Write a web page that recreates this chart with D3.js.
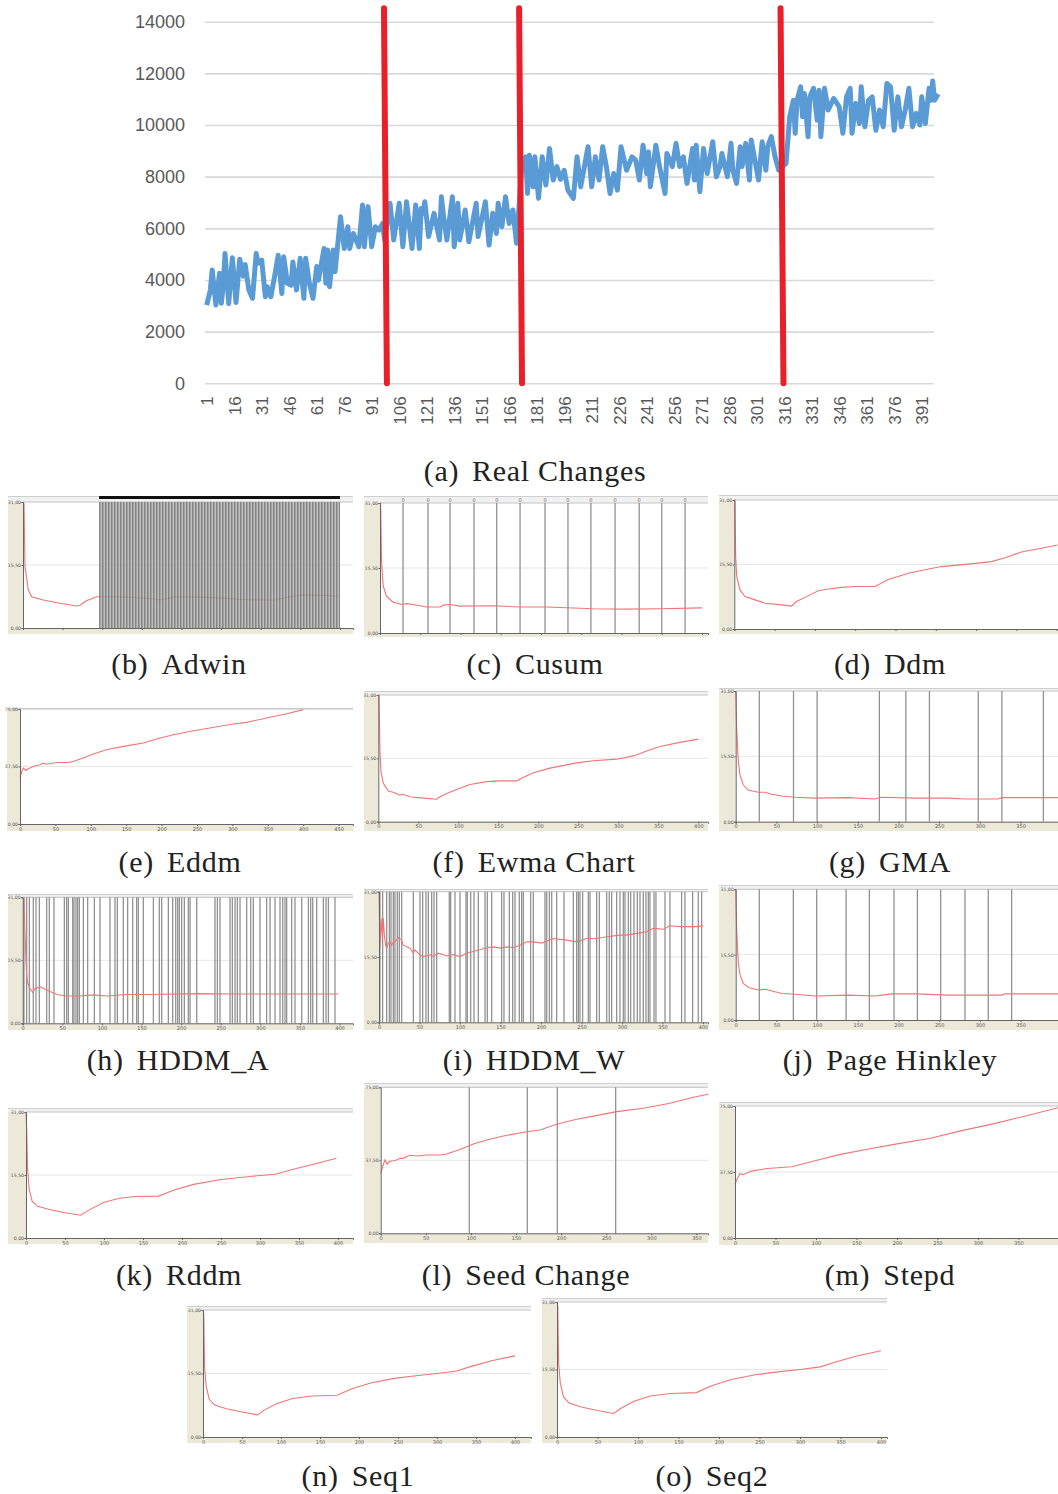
<!DOCTYPE html>
<html><head><meta charset="utf-8">
<script src="https://cdn.jsdelivr.net/npm/d3@7"></script>
<style>body{margin:0;background:#fff}svg{display:block}</style>
</head><body>
<svg id="c" width="1058" height="1494"></svg>
<script>
// ================= DATA =================
// (a) Real Changes : blue series (index, value)
const topIdx = [1,3,4,6,8,9,10,11,13,15,17,19,21,22,24,26,28,29,31,33,34,36,38,40,42,43,45,47,48,50,52,54,55,57,59,61,62,65,66,67,68,70,71,74,76,78,79,81,84,86,87,89,91,93,95,97,98,101,103,106,108,110,113,115,117,118,119,120,122,125,128,129,130,132,135,136,138,139,142,144,148,149,153,155,157,159,160,162,164,166,168,170,173,175,176,177,179,180,182,184,186,188,190,192,194,196,198,201,203,205,209,211,213,215,217,219,221,223,225,227,230,233,235,237,239,241,242,243,246,248,251,252,255,257,259,261,263,266,267,268,270,272,274,277,279,281,282,285,287,288,290,292,293,295,297,298,300,302,304,306,307,309,311,313,315,317,319,321,322,323,325,326,327,329,330,332,334,335,336,338,340,343,346,348,350,352,353,355,357,358,360,362,364,366,368,370,372,374,376,378,380,382,384,386,388,390,391,393,395,396,397,398,400];
const topVal = [3030,3610,4385,3030,4257,3100,3800,5030,3090,4860,3130,4800,4150,4600,3610,3290,5030,4645,4770,3350,3740,3350,4130,4960,3480,4900,3870,3800,4700,3610,4840,3290,4840,3870,3290,4520,4000,5220,3870,5160,3740,5160,4320,6450,5220,6060,5220,5800,5290,6900,5290,6840,5290,6060,5930,6190,5550,6970,5550,6970,5290,7030,5220,6900,5220,6770,6580,7030,5680,6580,5550,7220,6580,5550,7220,5290,6970,5550,6710,5480,6970,5680,7030,5350,6580,5800,6970,6060,7220,6190,6710,5420,8600,8770,7350,8830,7610,8770,7160,8770,7680,9090,7870,8390,7900,8250,7480,7160,8770,7610,9160,7610,8770,7870,9160,8390,7350,8120,7480,9160,8250,8770,8640,7870,9220,8120,8960,7610,9220,8390,7350,8900,8390,9290,8390,8770,7740,9090,7870,9220,7420,9090,8120,9350,8000,8390,8900,8000,9290,8250,7740,9160,8390,9290,7870,9420,8640,7870,9350,8250,9160,9550,8770,8250,8390,8510,10320,10960,9680,10960,11480,10320,11220,9550,11090,11420,10190,11350,9550,11420,10580,11030,10700,9680,11090,11420,9680,10830,10060,11480,9930,10960,11090,9800,10580,9930,11610,11480,9800,11090,9930,10580,11420,9930,10450,10000,11090,10060,11420,10960,11700,10960,11200];
const yTicksTop = [0,2000,4000,6000,8000,10000,12000,14000];
const xTicksTop = [1,16,31,46,61,76,91,106,121,136,151,166,181,196,211,226,241,256,271,286,301,316,331,346,361,376,391];
const changeTop = [97.7,171.4,314.0];
const changeBottom = [99.3,173.0,315.6];
const changeLineMax = 14520;

// small panels : accuracy curves [instance, value]
const adwinPts = [[0,31],[1.3,30.6],[2.5,15.1],[6.7,9.35],[11,7.7],[25.6,6.9],[46.7,6.1],[67.7,5.4],[72,5.6],[80,6.7],[93,7.7],[118,7.7],[139,7.5],[160,7.3],[173,6.9],[192,7.7],[223,7.6],[257,7.3],[274,7.0],[316,6.9],[333,7.5],[350,8.1],[375,8.1],[399,7.8]];
const adwinBand = [96,400];
const cusumPts = [[0,31],[0.8,31],[2,16.9],[4,11.2],[8,8.8],[16.6,7.3],[22,7.1],[27,6.8],[33,7.0],[41,6.8],[58,6.2],[74.5,6.2],[80,6.7],[87,6.8],[99,6.4],[141,6.5],[174,6.2],[207,6.2],[265,5.8],[306,5.7],[348,5.8],[400,6.0]];
const cusumDrifts = [28.6,59.6,87,116.8,145,174,205,233.5,262,292,322,350,379];
const ddmPts = [[0,31],[0.9,31],[1.7,17.4],[3,12.6],[7,9.4],[13.3,7.8],[25.7,7],[38,6.2],[58.8,5.8],[71,5.5],[77,6.6],[87.7,7.6],[104,9.2],[116.6,9.6],[133,10],[150,10.2],[174.6,10.2],[191,11.9],[216,13.4],[241,14.4],[257,15],[290,15.6],[319,16.2],[336,17.1],[356,18.5],[381,19.4],[401,20.2]];
const eddmPts = [[0,30.5],[2.4,34.2],[4.7,36.4],[8.5,34.9],[11.8,36],[18.8,37.5],[28,38.6],[33,39.7],[37.7,39],[52,40.1],[66,40.1],[73,40.5],[89.5,43],[103.5,45.6],[122,48.4],[146,50.6],[174,52.8],[193,55.4],[216.5,58.2],[245,60.8],[268,62.6],[301,65.2],[320,66.3],[348,69.1],[377,71.9],[400,74.6]];
const ewmaPts = [[0,31],[0.9,31],[2.1,17.1],[3.4,12.2],[6.3,9.4],[12.5,7.5],[18.8,7.2],[27,6.5],[31,6.7],[39.6,6.1],[50,5.9],[60.5,5.7],[73,5.5],[77,6.1],[85.5,6.9],[102,8.2],[114.6,9.1],[135.5,9.8],[152,10],[173,10],[181,10.8],[194,12],[214.6,13.1],[227,13.6],[248,14.4],[269,14.9],[298,15.3],[319,16.1],[335.5,17.3],[352,18.4],[377,19.4],[400,20.2]];
const gmaPts = [[0,30.8],[1.2,22.2],[3.3,14.2],[5.3,11.1],[9.3,8.7],[15.5,7.5],[27.8,7],[36,7],[44,6.5],[56.5,6.1],[73,5.8],[97,5.6],[138,5.7],[171,5.4],[179,5.8],[220,5.6],[261,5.6],[282,5.4],[322.6,5.4],[326.8,5.7],[363.6,5.7],[396,5.7]];
const gmaDrifts = [29,71,100,176.5,209,238,298,327,378];
const hddmAPts = [[0,31],[1.6,30.7],[2.9,21.7],[4.2,15.2],[5,11.9],[6.3,9.8],[9.2,8.6],[12.6,7.6],[15.5,8.6],[19.7,8.8],[24,8.9],[28.2,8.4],[34.5,7.8],[43,7.1],[55.5,6.7],[72.4,6.7],[89.2,7],[106,6.7],[131.3,7.1],[160.7,7.1],[223.9,7.3],[266,7.2],[308,7.2],[398.5,7.2]];
const hddmADrifts = [1.6,5,8.4,13.4,16.8,21,30.3,33.6,39.5,52.6,55.5,57.6,63.1,64.8,67.3,69.4,71.5,76.6,82,90.5,97.6,110.2,116.5,119.5,127,132.5,138.9,143.9,146,152.3,165,172.5,175.5,183.9,189.4,193.2,195.7,197.8,200.7,204.1,209.1,211.3,219.7,242.8,245.8,249.1,261.8,264.7,268.1,271,274.4,282.8,287.9,291.2,299.6,308,312.3,318.6,324.9,328.3,331.2,333.3,339.6,343.8,352.3,360.7,363.6,366.2,371.2,379.6,383,386,394.3];
const hddmWPts = [[0,31],[1.2,17.6],[2.5,24.7],[4.1,19.9],[5.3,24.7],[6.6,20.7],[8.2,18.3],[9.5,17.6],[11.5,18.8],[13.6,19.1],[15.6,18.3],[17.7,19],[21.8,19.5],[23.9,20.1],[25.9,19.8],[28,19.5],[30,18.3],[38.3,17.6],[42.4,16.4],[44.4,17.2],[50.6,16],[54.7,15.6],[58.8,15.8],[63,16],[67,15.7],[73.2,16.4],[83.5,15.8],[91.8,16.1],[100,15.6],[108.2,16.4],[116.4,16.8],[124.7,17.2],[132.9,17.7],[141.1,17.9],[149.4,17.6],[157.6,17.9],[165.8,17.7],[174,18.3],[182.3,19.1],[190.5,19.1],[200.8,18.8],[215.2,19.9],[231.7,19.5],[244,19.1],[256.4,19.9],[268.7,19.9],[281,20.3],[297.5,20.7],[305.7,20.7],[318,21.1],[330.4,21.5],[338.7,22.3],[351,22.1],[359.2,22.9],[371.6,22.7],[383.9,22.7],[392.1,22.7],[400.4,22.9]];
const hddmWDrifts = [1.2,4.5,9.5,12.8,14.8,17.7,19.7,22.6,25.1,28,42.4,50.6,53.9,58,60.9,65,67.9,71.2,86.8,88.5,93.8,100,107.4,109,113.2,117.3,122.6,130.9,133.7,139.1,151.4,154.3,160.9,165,167.9,173.2,176.1,178.2,187.2,190.5,204.9,207,210.3,213.2,219.3,228.4,239.9,244,246.1,248.1,251.4,258.4,260.5,268.7,272,281.1,284.3,287.2,293.4,297.5,301.6,303.7,307.8,310.7,314.8,318.9,322.2,326.3,329.6,332.5,334.5,339.5,341.9,353.1,359.2,373.6,377.7,387.2,394.2,398.3];
const phPts = [[0,31],[1.2,21.3],[3.3,13.4],[5.3,10.7],[9.4,8.7],[15.6,7.7],[27.8,7.1],[36,7.3],[48.3,6.7],[56.5,6.3],[72.9,6.1],[97.5,5.7],[138.4,5.9],[171.2,5.7],[179.4,5.9],[191.6,6.2],[220.3,6.2],[261.3,5.9],[302.2,5.9],[326.8,5.9],[330.9,6.2],[396.4,6.2]];
const phDrifts = [29,70.8,99.5,135.6,164.2,194.5,223.2,251.8,281.7,310.3,339];
const rddmPts = [[0,31],[1,26],[2,17],[4,12],[8,9],[15,7.8],[30,7],[50,6.2],[70,5.6],[80,6.8],[100,8.8],[120,9.8],[140,10.2],[170,10.3],[190,11.8],[215,13.2],[250,14.4],[290,15.2],[320,15.7],[340,16.8],[370,18.2],[398,19.6]];
const seedPts = [[0,30.8],[2.2,34.2],[4.7,37.7],[7.3,35.6],[10.3,37.1],[14,37.3],[17.7,37.7],[21.4,38.5],[25,38.5],[28.8,39.4],[32.5,40.1],[39.9,39.7],[50.9,40.2],[65.7,40.2],[73.1,40.7],[87.9,43.1],[102.7,45.9],[117.5,47.9],[135.9,50],[161.8,52.2],[176.6,53.1],[195,56],[217.2,58.6],[235.7,60.2],[261.6,62.5],[291.1,64.2],[320.7,66.8],[346.5,69.9],[363.2,71.4]];
const seedDrifts = [98.2,162.5,195.8,260.5];
const stepdPts = [[0,30.5],[3,34],[6,36.5],[10,36],[20,38],[40,39.5],[70,40.5],[100,44],[130,47.5],[170,51],[200,53.5],[240,56.5],[280,61],[320,65],[360,69.5],[399,74]];
const seq1Pts = [[0,31],[1,30],[2,17],[4,12.5],[8,9.2],[15,7.8],[30,6.9],[50,6.1],[70,5.4],[78,6.5],[95,8.2],[115,9.4],[140,10],[172,10.2],[190,11.7],[215,13.2],[245,14.3],[270,14.9],[300,15.5],[325,16.1],[345,17.3],[370,18.6],[400,19.8]];
const seq2Pts = [[0,31],[1,30],[2,17],[4,12.5],[8,9.2],[15,7.8],[30,6.9],[50,6.1],[70,5.4],[78,6.5],[95,8.2],[115,9.4],[140,10],[172,10.2],[190,11.7],[215,13.2],[245,14.3],[270,14.9],[300,15.5],[325,16.1],[345,17.3],[370,18.6],[400,19.8]];
const yLabels31 = [0,15.5,31];
const yLabels75 = [0,37.5,75];

// ================= LAYOUT =================
const svg = d3.select("#c");
const serif = "Liberation Serif, Times New Roman, serif";

// ---- (a)
const xA = d3.scaleLinear().domain([1,391]).range([206.7,921.7]);
const yA = d3.scaleLinear().domain([0,14000]).range([383.3,21.7]);
const gA = svg.append("g");
gA.append("g").attr("transform","translate(205,0)")
  .call(d3.axisLeft(yA).tickValues(yTicksTop).tickSize(-729).tickPadding(20).tickFormat(d=>String(d)))
  .call(g=>g.select(".domain").remove())
  .call(g=>g.selectAll(".tick line").attr("stroke","#d9d9d9").attr("stroke-width",1.6))
  .call(g=>g.selectAll(".tick text").attr("fill","#595959").attr("font-size",18)
     .attr("font-family","Liberation Sans, Arial, sans-serif"));
gA.append("g").attr("transform","translate(0,383.3)")
  .call(d3.axisBottom(xA).tickValues(xTicksTop).tickSize(0).tickPadding(0))
  .call(g=>g.select(".domain").remove())
  .call(g=>g.selectAll(".tick text").attr("transform","rotate(-90)").attr("x",-13).attr("y",0)
     .attr("dy","0.36em").attr("text-anchor","end").attr("fill","#595959").attr("font-size",17)
     .attr("font-family","Liberation Sans, Arial, sans-serif"));
const topData = topIdx.map((d,i)=>[d,topVal[i]]);
gA.append("path").datum(topData)
  .attr("d", d3.line().x(d=>xA(d[0])).y(d=>yA(d[1])))
  .attr("fill","none").attr("stroke","#5b9bd5").attr("stroke-width",5).attr("stroke-linejoin","round");
gA.selectAll("line.chg").data(changeTop).join("line").attr("class","chg")
  .attr("x1",(d,i)=>xA(changeBottom[i])).attr("y1",yA(0))
  .attr("x2",d=>xA(d)).attr("y2",yA(changeLineMax))
  .attr("stroke","#e8202a").attr("stroke-width",6).attr("stroke-linecap","round");

// ---- captions
function caption(letter, name, cx, by){
  const t = svg.append("text").attr("y",by).attr("font-family",serif).attr("font-size",30)
    .attr("fill","#222").attr("letter-spacing","0.7px");
  t.append("tspan").text("("+letter+")");
  t.append("tspan").attr("dx",13).text(name);
  const w = t.node().getComputedTextLength() + 13;
  t.attr("x", cx - w/2);
}
caption("a","Real Changes",535,481);

// ---- small panels
const L = {
 b:{left:8,right:353,top:496,plotTop:502,plotBottom:628,bottom:634,axisX:23,ppu:0.7925,yMax:31,labels:false},
 c:{left:364,right:708,top:496,plotTop:503,plotBottom:633,bottom:637,axisX:380,ppu:0.805,yMax:31,labels:false,zero:true},
 d:{left:719,right:1058,top:495,plotTop:500,plotBottom:629,bottom:634,axisX:734.3,ppu:0.806,yMax:31,labels:false},
 e:{left:7,right:353,top:708,plotTop:709,plotBottom:824,bottom:831,axisX:20,ppu:0.708,yMax:75,labels:true},
 f:{left:364,right:708,top:691,plotTop:695,plotBottom:821.7,bottom:831,axisX:378.3,ppu:0.8,yMax:31,labels:true},
 g:{left:719,right:1058,top:688,plotTop:691,plotBottom:821.7,bottom:831,axisX:735.7,ppu:0.814,yMax:31,labels:true},
 h:{left:8,right:353,top:894,plotTop:897.3,plotBottom:1023.3,bottom:1030,axisX:22.7,ppu:0.792,yMax:31,labels:true},
 i:{left:364,right:708,top:889,plotTop:891.7,plotBottom:1022.3,bottom:1030,axisX:379,ppu:0.81,yMax:31,labels:true},
 j:{left:719,right:1058,top:885,plotTop:889.3,plotBottom:1020,bottom:1030,axisX:735.7,ppu:0.814,yMax:31,labels:true},
 k:{left:8,right:353,top:1108,plotTop:1112,plotBottom:1238,bottom:1244,axisX:26,ppu:0.78,yMax:31,labels:true},
 l:{left:364,right:708,top:1083,plotTop:1087.3,plotBottom:1233.3,bottom:1243,axisX:380.7,ppu:0.902,yMax:75,labels:true},
 m:{left:719,right:1058,top:1102,plotTop:1106,plotBottom:1238,bottom:1245,axisX:735,ppu:0.81,yMax:75,labels:true},
 n:{left:187,right:531,top:1306,plotTop:1310,plotBottom:1437,bottom:1443,axisX:203,ppu:0.78,yMax:31,labels:true},
 o:{left:542,right:887,top:1298,plotTop:1302,plotBottom:1437,bottom:1443,axisX:557,ppu:0.81,yMax:31,labels:true}
};
const fmt = d => d3.format(".2f")(d).replace(".",",");

function drawPanel(P, pts, drifts, yLabs, opts={}){
  const g = svg.append("g");
  const xEnd = (P.right-P.axisX)/P.ppu;
  const x = d3.scaleLinear().domain([0,xEnd]).range([P.axisX,P.right]);
  const y = d3.scaleLinear().domain([0,P.yMax]).range([P.plotBottom,P.plotTop]);
  g.append("rect").attr("x",P.left).attr("y",P.top).attr("width",P.right-P.left).attr("height",P.bottom-P.top).attr("fill","#fff");
  g.append("rect").attr("x",P.left).attr("y",P.top).attr("width",P.right-P.left).attr("height",Math.max(0,P.plotTop-P.top)).attr("fill","#f1f1f1");
  g.append("line").attr("x1",P.left).attr("x2",P.right).attr("y1",P.top+0.5).attr("y2",P.top+0.5).attr("stroke","#cfcfcf");
  g.append("line").attr("x1",P.axisX).attr("x2",P.right).attr("y1",P.plotTop).attr("y2",P.plotTop).attr("stroke","#c4c4c4");
  g.append("rect").attr("x",P.left).attr("y",P.plotTop).attr("width",P.axisX-P.left).attr("height",P.bottom-P.plotTop).attr("fill","#ece9d8");
  g.append("rect").attr("x",P.axisX).attr("y",P.plotBottom).attr("width",P.right-P.axisX).attr("height",P.bottom-P.plotBottom).attr("fill","#ece9d8");
  g.append("line").attr("x1",P.axisX).attr("x2",P.right).attr("y1",y(P.yMax/2)).attr("y2",y(P.yMax/2)).attr("stroke","#e6e6e6");
  // drift lines
  g.selectAll("line.dr").data(drifts).join("line").attr("class","dr")
    .attr("x1",d=>x(d)).attr("x2",d=>x(d)).attr("y1",P.plotTop).attr("y2",P.plotBottom)
    .attr("stroke","#929292").attr("stroke-width",1.3);
  if (P.zero){
    g.selectAll("text.z").data(drifts).join("text").attr("class","z")
      .attr("x",d=>x(d)).attr("y",P.plotTop-1.5).attr("text-anchor","middle")
      .attr("font-size",5).attr("font-family","DejaVu Sans, sans-serif").attr("fill","#666").text("0");
  }
  // accuracy curve
  g.append("path").datum(pts).attr("d",d3.line().x(d=>x(d[0])).y(d=>y(d[1])))
    .attr("fill","none").attr("stroke","#f07575").attr("stroke-width",1.1);
  if (opts.band){
    const pid = "stripe";
    if (svg.select("#"+pid).empty()){
      const pat = svg.append("defs").append("pattern").attr("id",pid).attr("patternUnits","userSpaceOnUse")
        .attr("width",3).attr("height",10);
      pat.append("rect").attr("width",3).attr("height",10).attr("fill","#b4b4b4");
      pat.append("rect").attr("width",1.5).attr("height",10).attr("fill","#6f6f6f");
    }
    g.append("rect").attr("x",x(opts.band[0])).attr("y",P.plotTop).attr("width",x(opts.band[1])-x(opts.band[0]))
      .attr("height",P.plotBottom-P.plotTop).attr("fill","url(#stripe)").attr("opacity",0.85);
    g.append("rect").attr("x",x(opts.band[0])).attr("y",P.top).attr("width",x(opts.band[1])-x(opts.band[0]))
      .attr("height",3).attr("fill","#111");
  }
  // axes
  const ticks = d3.range(0,xEnd+0.01,50);
  g.append("g").attr("transform",`translate(0,${P.plotBottom})`)
    .call(d3.axisBottom(x).tickValues(ticks).tickSize(2).tickPadding(1).tickFormat(d=>P.labels?String(d):""))
    .call(a=>a.select(".domain").attr("stroke","#666"))
    .call(a=>a.selectAll(".tick line").attr("stroke","#666"))
    .call(a=>a.selectAll(".tick text").attr("font-size",5).attr("fill","#555").attr("font-family","DejaVu Sans, sans-serif"));
  g.append("g").attr("transform",`translate(${P.axisX},0)`)
    .call(d3.axisLeft(y).tickValues(yLabs).tickSize(1.5).tickPadding(0.5).tickFormat(fmt))
    .call(a=>a.select(".domain").attr("stroke","#666"))
    .call(a=>a.selectAll(".tick line").attr("stroke","#666"))
    .call(a=>a.selectAll(".tick text").attr("font-size",4.6).attr("fill","#555").attr("font-family","DejaVu Sans, sans-serif"));
}

drawPanel(L.b, adwinPts, [], yLabels31, {band:adwinBand});
drawPanel(L.c, cusumPts, cusumDrifts, yLabels31);
drawPanel(L.d, ddmPts, [], yLabels31);
drawPanel(L.e, eddmPts, [], yLabels75);
drawPanel(L.f, ewmaPts, [], yLabels31);
drawPanel(L.g, gmaPts, gmaDrifts, yLabels31);
drawPanel(L.h, hddmAPts, hddmADrifts, yLabels31);
drawPanel(L.i, hddmWPts, hddmWDrifts, yLabels31);
drawPanel(L.j, phPts, phDrifts, yLabels31);
drawPanel(L.k, rddmPts, [], yLabels31);
drawPanel(L.l, seedPts, seedDrifts, yLabels75);
drawPanel(L.m, stepdPts, [], yLabels75);
drawPanel(L.n, seq1Pts, [], yLabels31);
drawPanel(L.o, seq2Pts, [], yLabels31);

caption("b","Adwin",179,674);
caption("c","Cusum",535,674);
caption("d","Ddm",890,674);
caption("e","Eddm",180,872);
caption("f","Ewma Chart",534,872);
caption("g","GMA",890,872);
caption("h","HDDM_A",178,1070);
caption("i","HDDM_W",534,1070);
caption("j","Page Hinkley",890,1070);
caption("k","Rddm",179,1285);
caption("l","Seed Change",526,1285);
caption("m","Stepd",890,1285);
caption("n","Seq1",358,1486);
caption("o","Seq2",712,1486);
</script>
</body></html>
